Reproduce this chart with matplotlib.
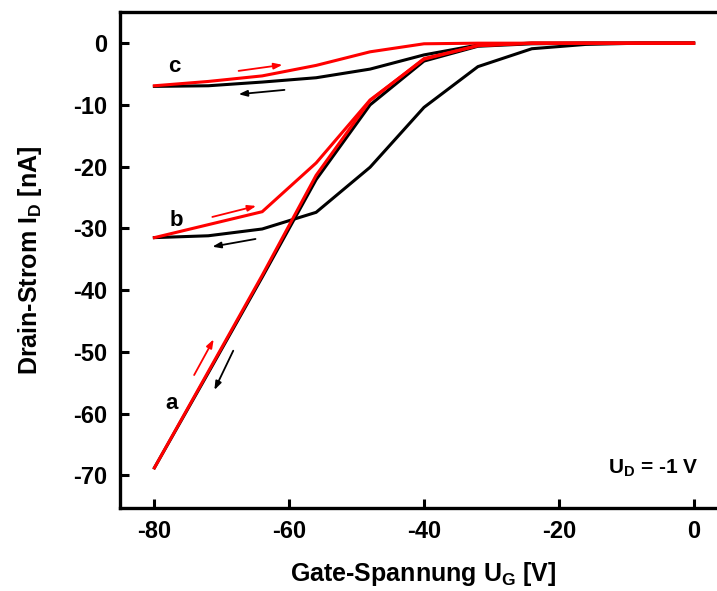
import matplotlib
matplotlib.use("Agg")
import matplotlib.pyplot as plt

plt.rcParams["font.family"] = ["Liberation Sans", "DejaVu Sans"]
plt.rcParams["font.weight"] = "bold"
plt.rcParams["mathtext.default"] = "regular"

# Gate voltage sweep points [V]
gate_voltage = [-80, -72, -64, -56, -48, -40, -32, -24, -16, -8, 0]

# Drain current [nA], forward (red) and backward (black) sweeps
a_forward = [-68.8, -53.2, -37.6, -21.4, -9.3, -2.5, -0.4, 0.0, 0.0, 0.0, 0.0]
a_backward = [-68.8, -53.4, -37.9, -22.1, -10.0, -2.9, -0.5, -0.1, 0.0, 0.0, 0.0]
b_forward = [-31.5, -29.4, -27.3, -19.4, -9.2, -2.6, -0.4, 0.0, 0.0, 0.0, 0.0]
b_backward = [-31.5, -31.2, -30.1, -27.4, -20.1, -10.4, -3.8, -0.9, -0.2, 0.0, 0.0]
c_forward = [-6.9, -6.2, -5.3, -3.6, -1.4, -0.1, 0.0, 0.0, 0.0, 0.0, 0.0]
c_backward = [-7.0, -6.9, -6.3, -5.6, -4.2, -1.9, -0.3, 0.0, 0.0, 0.0, 0.0]

x_ticks = [-80, -60, -40, -20, 0]
y_ticks = [0, -10, -20, -30, -40, -50, -60, -70]

W, H = 717, 591
fig = plt.figure(figsize=(W / 100, H / 100), dpi=100)
ax = fig.add_axes([120 / W, (H - 508) / H, 607.3 / W, 496 / H])

red = "#ff0000"
black = "#000000"
lw = 2.2
for fwd, bwd in [(a_forward, a_backward), (b_forward, b_backward), (c_forward, c_backward)]:
    ax.plot(gate_voltage, bwd, color=black, lw=lw, solid_joinstyle="miter", zorder=3)
    ax.plot(gate_voltage, fwd, color=red, lw=lw, solid_joinstyle="miter", zorder=4)

ax.set_xlim(-85.1, 5)
ax.set_ylim(-75.3, 5.05)
ax.set_xticks(x_ticks)
ax.set_yticks(y_ticks)
ax.set_xticklabels([str(v) for v in x_ticks])
ax.set_yticklabels([str(v) for v in y_ticks])

for side in ["left", "bottom", "top"]:
    ax.spines[side].set_linewidth(2.4)
ax.spines["right"].set_visible(False)
ax.tick_params(axis="both", which="both", direction="in", length=6.5, width=2.2,
               labelsize=17, top=False, right=False)
ax.tick_params(axis="x", pad=9)
ax.tick_params(axis="y", pad=9)

ax.set_xlabel("Gate-Spannung U$_{G}$ [V]", fontsize=18, fontweight="bold", labelpad=12)
ax.set_ylabel("Drain-Strom I$_{D}$ [nA]", fontsize=18, fontweight="bold", labelpad=21)

# Sweep direction arrows
def arrow(p0, p1, color):
    ax.annotate("", xy=p1, xytext=p0,
                arrowprops=dict(arrowstyle="-|>,head_length=0.5,head_width=0.18",
                                color=color, lw=1.3, shrinkA=0, shrinkB=0),
                zorder=5)

arrow((-67.5, -4.49), (-61.0, -3.51), red)
arrow((-60.7, -7.57), (-67.5, -8.27), black)
arrow((-71.4, -28.15), (-64.9, -26.37), red)
arrow((-65.0, -31.72), (-71.4, -32.97), black)
arrow((-74.1, -53.76), (-71.2, -47.97), red)
arrow((-68.3, -49.82), (-71.1, -56.19), black)

for label, (lx, ly) in [("c", (-77.1, -3.7)), ("b", (-76.7, -28.7)), ("a", (-77.4, -58.3))]:
    ax.text(lx, ly, label, fontsize=16, fontweight="bold", ha="center", va="center")

ax.text(0.75, -69.7, "U$_{D}$ = -1 V", fontsize=15, fontweight="bold", ha="right", va="baseline")

fig.savefig("out.png", dpi=100)
